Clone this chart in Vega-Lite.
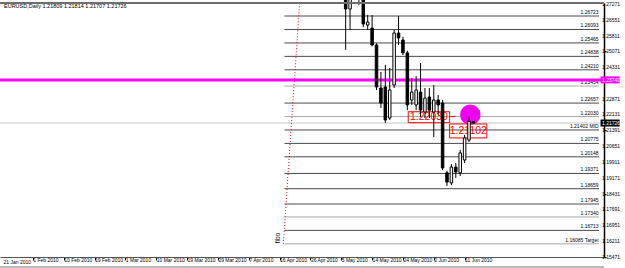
{
  "$schema": "https://vega.github.io/schema/vega-lite/v6.json",
  "autosize": {"type": "none"},
  "padding": {"left": 0, "top": 3, "right": 21, "bottom": 11},
  "width": 604,
  "height": 254,
  "background": "white",
  "config": {"view": {"stroke": null}, "font": "Liberation Sans", "axis": {"labelOverlap": false, "labelFlush": false, "grid": false, "title": null}},
  "datasets": {
    "candles": [
      {"i": 71, "o": 1.2830, "h": 1.2860, "l": 1.2514, "c": 1.2705},
      {"i": 72, "o": 1.2705, "h": 1.2820, "l": 1.2607, "c": 1.2790},
      {"i": 73, "o": 1.2790, "h": 1.2880, "l": 1.2760, "c": 1.2850},
      {"i": 74, "o": 1.2850, "h": 1.2890, "l": 1.2724, "c": 1.2780},
      {"i": 75, "o": 1.2790, "h": 1.2800, "l": 1.2620, "c": 1.2635},
      {"i": 76, "o": 1.2630, "h": 1.2677, "l": 1.2607, "c": 1.2644},
      {"i": 77, "o": 1.2616, "h": 1.2677, "l": 1.2530, "c": 1.2537},
      {"i": 78, "o": 1.2537, "h": 1.2545, "l": 1.2327, "c": 1.2341},
      {"i": 79, "o": 1.2336, "h": 1.2411, "l": 1.2243, "c": 1.2266},
      {"i": 80, "o": 1.2341, "h": 1.2444, "l": 1.2173, "c": 1.2187},
      {"i": 81, "o": 1.2196, "h": 1.2430, "l": 1.2187, "c": 1.2327},
      {"i": 82, "o": 1.2350, "h": 1.2607, "l": 1.2336, "c": 1.2593},
      {"i": 83, "o": 1.2593, "h": 1.2672, "l": 1.2537, "c": 1.2570},
      {"i": 84, "o": 1.2560, "h": 1.2575, "l": 1.2490, "c": 1.2500},
      {"i": 85, "o": 1.2500, "h": 1.2510, "l": 1.2233, "c": 1.2257},
      {"i": 86, "o": 1.2280, "h": 1.2383, "l": 1.2257, "c": 1.2317},
      {"i": 87, "o": 1.2257, "h": 1.2392, "l": 1.2233, "c": 1.2327},
      {"i": 88, "o": 1.2317, "h": 1.2453, "l": 1.2201, "c": 1.2233},
      {"i": 89, "o": 1.2224, "h": 1.2336, "l": 1.2196, "c": 1.2289},
      {"i": 90, "o": 1.2294, "h": 1.2336, "l": 1.2196, "c": 1.2233},
      {"i": 91, "o": 1.2224, "h": 1.2350, "l": 1.2107, "c": 1.2280},
      {"i": 92, "o": 1.2280, "h": 1.2303, "l": 1.2210, "c": 1.2257},
      {"i": 93, "o": 1.2266, "h": 1.2280, "l": 1.1953, "c": 1.1963},
      {"i": 94, "o": 1.1940, "h": 1.1950, "l": 1.1879, "c": 1.1897},
      {"i": 95, "o": 1.1893, "h": 1.1981, "l": 1.1883, "c": 1.1967},
      {"i": 96, "o": 1.1967, "h": 1.1986, "l": 1.1916, "c": 1.1944},
      {"i": 97, "o": 1.1940, "h": 1.2047, "l": 1.1925, "c": 1.2033},
      {"i": 98, "o": 1.2000, "h": 1.2117, "l": 1.1986, "c": 1.2103},
      {"i": 99, "o": 1.2093, "h": 1.2201, "l": 1.2084, "c": 1.2180},
      {"i": 100, "o": 1.21809, "h": 1.21814, "l": 1.21707, "c": 1.21726}
    ],
    "fib": [
      {"p": 1.26723, "label": "1.26723", "col": "dark"},
      {"p": 1.26093, "label": "1.26093", "col": "dark"},
      {"p": 1.25465, "label": "1.25465", "col": "dark"},
      {"p": 1.24838, "label": "1.24838", "col": "dark"},
      {"p": 1.24210, "label": "1.24210", "col": "dark"},
      {"p": 1.23454, "label": "1.23454", "col": "gray"},
      {"p": 1.22657, "label": "1.22657", "col": "dark"},
      {"p": 1.22030, "label": "1.22030", "col": "gray"},
      {"p": 1.21402, "label": "1.21402  MID", "col": "dark"},
      {"p": 1.20775, "label": "1.20775", "col": "dark"},
      {"p": 1.20148, "label": "1.20148", "col": "dark"},
      {"p": 1.19371, "label": "1.19371", "col": "dark"},
      {"p": 1.18659, "label": "1.18659", "col": "dark"},
      {"p": 1.17945, "label": "1.17945", "col": "dark"},
      {"p": 1.17340, "label": "1.17340", "col": "gray"},
      {"p": 1.16713, "label": "1.16713", "col": "dark"},
      {"p": 1.16085, "label": "1.16085  Target", "col": "gray"}
    ],
    "yticks": [
      {"p": 1.27271, "t": "1.27271"}, {"p": 1.26551, "t": "1.26551"}, {"p": 1.25811, "t": "1.25811"},
      {"p": 1.25071, "t": "1.25071"}, {"p": 1.24331, "t": "1.24331"}, {"p": 1.22871, "t": "1.22871"},
      {"p": 1.22131, "t": "1.22131"}, {"p": 1.21391, "t": "1.21391"}, {"p": 1.20651, "t": "1.20651"},
      {"p": 1.19911, "t": "1.19911"}, {"p": 1.19171, "t": "1.19171"}, {"p": 1.18431, "t": "1.18431"},
      {"p": 1.17691, "t": "1.17691"}, {"p": 1.16951, "t": "1.16951"}, {"p": 1.16211, "t": "1.16211"},
      {"p": 1.15471, "t": "1.15471"}
    ]
  },
  "encoding": {
    "x": {"type": "quantitative", "scale": {"domain": [-6.32, 128.5], "nice": false, "zero": false}},
    "y": {"type": "quantitative", "scale": {"domain": [1.15471, 1.2733], "nice": false, "zero": false}}
  },
  "layer": [
    {
      "data": {"values": [{"i": 0}]},
      "mark": {"type": "tick", "opacity": 0},
      "encoding": {
        "x": {"field": "i", "type": "quantitative", "scale": {"domain": [-6.32, 128.5], "nice": false, "zero": false},
          "axis": {"orient": "bottom", "values": [0, 7, 14, 21, 28, 35, 42, 49, 56, 63, 70, 77, 84, 91, 98],
            "labelExpr": "['1 Feb 2010','10 Feb 2010','19 Feb 2010','1 Mar 2010','10 Mar 2010','19 Mar 2010','29 Mar 2010','7 Apr 2010','16 Apr 2010','26 Apr 2010','5 May 2010','14 May 2010','24 May 2010','2 Jun 2010','11 Jun 2010'][round(datum.value/7)]",
            "labelAlign": "left", "labelBaseline": "middle", "labelDx": 1.5, "labelFontSize": 5, "labelColor": "#000", "labelPadding": -0.5,
            "tickSize": 3, "tickColor": "#000", "domainColor": "#555", "domainWidth": 1, "labelOverlap": false}},
        "y": {"field": "i", "type": "quantitative", "scale": {"domain": [1.15471, 1.2733], "nice": false, "zero": false},
          "axis": {"orient": "right", "values": [1.27271, 1.26551, 1.25811, 1.25071, 1.24331, 1.22871, 1.22131, 1.21391, 1.20651, 1.19911, 1.19171, 1.18431, 1.17691, 1.16951, 1.16211, 1.15471],
            "labels": false, "tickSize": 2, "tickColor": "#000", "domainColor": "#000", "domainWidth": 1.5}}
      }
    },
    {
      "data": {"name": "yticks"},
      "mark": {"type": "text", "clip": false, "align": "left", "baseline": "middle", "fontSize": 5, "color": "#000", "dx": 3},
      "encoding": {"x": {"datum": 128.5}, "y": {"field": "p", "type": "quantitative"}, "text": {"field": "t"}}
    },
    {
      "data": {"values": [{"i": -7, "t": "21 Jan 2010"}]},
      "mark": {"type": "text", "clip": false, "align": "left", "baseline": "middle", "fontSize": 5, "color": "#000", "dx": 1.5},
      "encoding": {"x": {"field": "i", "type": "quantitative"}, "y": {"datum": 1.15238}, "text": {"field": "t"}}
    },
    {
      "data": {"values": [{"p": 1.15005}]},
      "mark": {"type": "rule", "clip": false, "color": "#777", "strokeWidth": 1},
      "encoding": {"y": {"field": "p", "type": "quantitative"}}
    },
    {
      "data": {"values": [{"p": 1.21726}]},
      "mark": {"type": "rule", "color": "#c8c8c8", "strokeWidth": 1},
      "encoding": {"y": {"field": "p", "type": "quantitative"}}
    },
    {
      "data": {"name": "fib"},
      "mark": {"type": "rule", "strokeWidth": 1},
      "encoding": {
        "x": {"datum": 57.1},
        "x2": {"datum": 128.5},
        "y": {"field": "p", "type": "quantitative"},
        "color": {"field": "col", "type": "nominal", "scale": {"domain": ["dark", "gray"], "range": ["#4a4a4a", "#a8a8a8"]}, "legend": null},
        "strokeWidth": {"field": "col", "type": "nominal", "scale": {"domain": ["dark", "gray"], "range": [1, 2]}, "legend": null}
      }
    },
    {
      "data": {"name": "fib"},
      "mark": {"type": "text", "align": "right", "baseline": "bottom", "fontSize": 5, "color": "#000", "dy": -1},
      "encoding": {
        "x": {"datum": 128.4},
        "y": {"field": "p", "type": "quantitative"},
        "text": {"field": "label"}
      }
    },
    {
      "data": {"values": [{"i": 56.85, "p": 1.16085}, {"i": 60.55, "p": 1.2733}]},
      "mark": {"type": "line", "color": "#ff0000", "strokeWidth": 1, "strokeDash": [1, 2]},
      "encoding": {"x": {"field": "i", "type": "quantitative"}, "y": {"field": "p", "type": "quantitative"}}
    },
    {
      "data": {"values": [{"i": 56.3, "p": 1.1636, "t": "fibo"}]},
      "mark": {"type": "text", "angle": 270, "fontSize": 6.5, "align": "center", "baseline": "bottom", "color": "#000"},
      "encoding": {"x": {"field": "i", "type": "quantitative"}, "y": {"field": "p", "type": "quantitative"}, "text": {"field": "t"}}
    },
    {
      "data": {"values": [{"p": 1.2374}]},
      "mark": {"type": "rule", "color": "#ff00ff", "strokeWidth": 3},
      "encoding": {"y": {"field": "p", "type": "quantitative"}}
    },
    {
      "data": {"values": [{"i": 99.3, "p": 1.2211}]},
      "mark": {"type": "point", "shape": "circle", "filled": true, "color": "#f000f0", "opacity": 1, "size": 420},
      "encoding": {"x": {"field": "i", "type": "quantitative"}, "y": {"field": "p", "type": "quantitative"}}
    },
    {
      "data": {"values": [
        {"x1": 85.2, "x2": 94.6, "y1": 1.2174, "y2": 1.22254},
        {"x1": 94.6, "x2": 103.05, "y1": 1.2103, "y2": 1.21684}
      ]},
      "mark": {"type": "rect", "fill": "white", "fillOpacity": 0, "stroke": "#ff0000", "strokeWidth": 1},
      "encoding": {
        "x": {"field": "x1", "type": "quantitative"}, "x2": {"field": "x2"},
        "y": {"field": "y1", "type": "quantitative"}, "y2": {"field": "y2"}
      }
    },
    {
      "data": {"values": [{"x1": 94.6, "x2": 95.9, "p": 1.2203}]},
      "mark": {"type": "rule", "color": "#ff0000", "strokeWidth": 1},
      "encoding": {"x": {"field": "x1", "type": "quantitative"}, "x2": {"field": "x2"}, "y": {"field": "p", "type": "quantitative"}}
    },
    {
      "data": {"values": [
        {"i": 89.9, "p": 1.2200, "t": "1.22030"},
        {"i": 98.85, "p": 1.2136, "t": "1.21102"}
      ]},
      "mark": {"type": "text", "font": "Liberation Sans", "fontSize": 10.5, "color": "#ff0000", "align": "center", "baseline": "middle"},
      "encoding": {"x": {"field": "i", "type": "quantitative"}, "y": {"field": "p", "type": "quantitative"}, "text": {"field": "t"}}
    },
    {
      "data": {"name": "candles"},
      "mark": {"type": "rule", "color": "#000", "strokeWidth": 1},
      "encoding": {
        "x": {"field": "i", "type": "quantitative"},
        "y": {"field": "l", "type": "quantitative"},
        "y2": {"field": "h"}
      }
    },
    {
      "data": {"name": "candles"},
      "transform": [{"calculate": "datum.c >= datum.o ? 'up' : 'down'", "as": "dir"}],
      "mark": {"type": "bar", "size": 2.5, "stroke": "#000", "strokeWidth": 1},
      "encoding": {
        "x": {"field": "i", "type": "quantitative"},
        "y": {"field": "o", "type": "quantitative"},
        "y2": {"field": "c"},
        "fill": {"field": "dir", "type": "nominal", "scale": {"domain": ["up", "down"], "range": ["#ffffff", "#000000"]}, "legend": null}
      }
    },
    {
      "data": {"values": [{"p": 1.2733}]},
      "mark": {"type": "rule", "color": "#6e6e6e", "strokeWidth": 2},
      "encoding": {"y": {"field": "p", "type": "quantitative"}}
    },
    {
      "data": {"values": [{"p": 1.2374, "bg": "#ff00ff"}, {"p": 1.21726, "bg": "#000000"}]},
      "mark": {"type": "rect", "clip": false, "height": 7},
      "encoding": {
        "x": {"datum": 128.85}, "x2": {"datum": 133.2},
        "y": {"field": "p", "type": "quantitative"},
        "fill": {"field": "bg", "type": "nominal", "scale": null}
      }
    },
    {
      "data": {"values": [{"p": 1.2374, "t": "1.23740"}, {"p": 1.21726, "t": "1.21726"}]},
      "mark": {"type": "text", "clip": false, "align": "left", "baseline": "middle", "fontSize": 5, "color": "#fff", "dx": 1.5},
      "encoding": {
        "x": {"datum": 128.85},
        "y": {"field": "p", "type": "quantitative"},
        "text": {"field": "t"}
      }
    },
    {
      "data": {"values": [{"t": "EURUSD,Daily  1.21809 1.21814 1.21707 1.21726"}]},
      "mark": {"type": "text", "align": "left", "baseline": "top", "fontSize": 5.5, "color": "#000", "dy": 1, "dx": -1},
      "encoding": {"x": {"datum": -6.32}, "y": {"datum": 1.2733}, "text": {"field": "t"}}
    }
  ]
}
